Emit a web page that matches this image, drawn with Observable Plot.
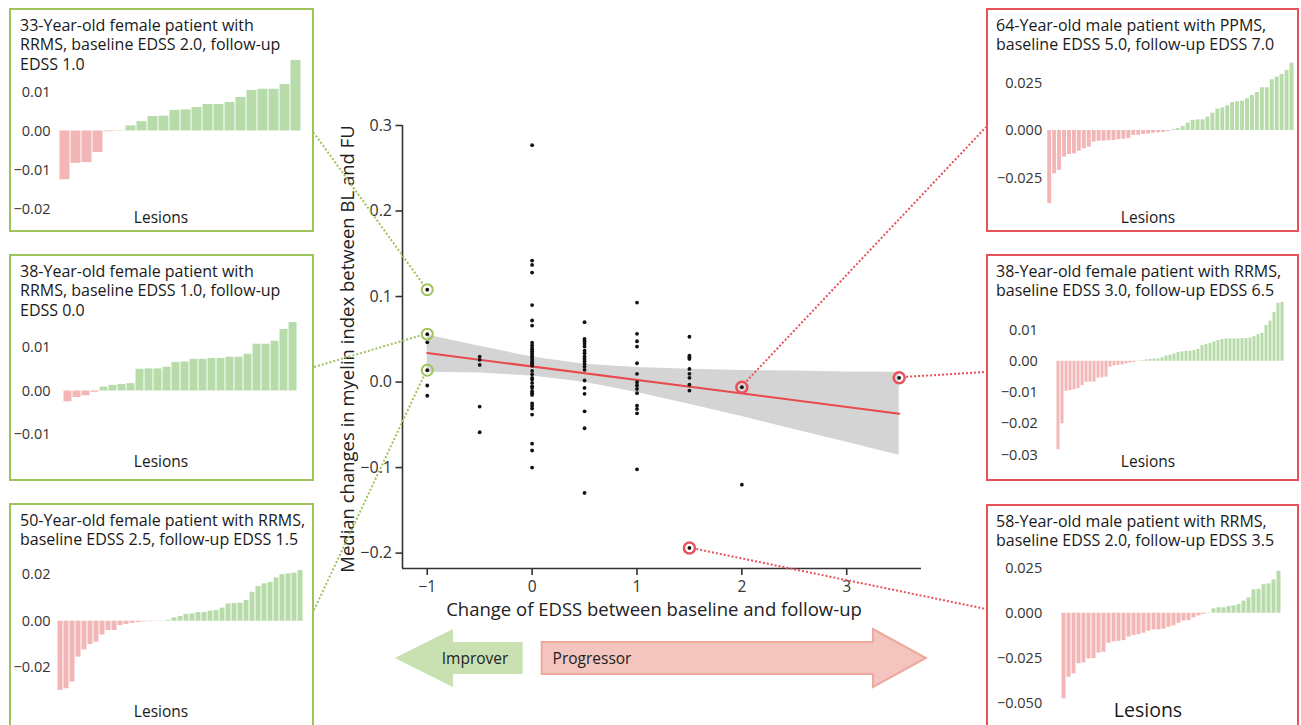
<!DOCTYPE html>
<html><head><meta charset="utf-8">
<script src="https://cdn.jsdelivr.net/npm/d3@7"></script>
<script src="https://cdn.jsdelivr.net/npm/@observablehq/plot@0.6"></script>
<style>
html,body{margin:0;padding:0;background:#fff;}
#root{position:relative;width:1301px;height:725px;overflow:hidden;font-family:"Open Sans",sans-serif;}
.layer{position:absolute;left:0;top:0;}
.box{position:absolute;box-sizing:border-box;border:2px solid;}
</style></head><body><div id="root"></div>
<script>
// ---------- DATA ----------
// Main scatter: change of EDSS (columns) and median myelin-index change of each patient
const columnX = [-1, -0.5, 0, 0.5, 1, 1.5, 2, 3.5];
const columnValues = [
  [0.108, 0.056, 0.0465, 0.0138, -0.004, -0.016],
  [0.0298, 0.026, 0.020, -0.0287, -0.0587],
  [0.277, 0.142, 0.137, 0.128, 0.090, 0.072, 0.066, 0.046, 0.043, 0.040, 0.038, 0.036, 0.034, 0.032, 0.030, 0.028, 0.026, 0.024, 0.022, 0.020, 0.019, 0.013, 0.009, 0.005, 0.003, -0.001, -0.005, -0.007, -0.011, -0.013, -0.015, -0.025, -0.028, -0.031, -0.038, -0.072, -0.080, -0.100],
  [0.070, 0.0505, 0.0477, 0.0447, 0.0415, 0.0368, 0.0337, 0.0298, 0.0271, 0.0243, 0.0213, 0.0181, 0.0143, 0.0018, -0.0068, -0.0138, -0.0342, -0.054, -0.1296],
  [0.093, 0.0564, 0.0477, 0.0415, 0.022, 0.0096, -0.0002, -0.004, -0.008, -0.013, -0.0275, -0.0314, -0.0365, -0.102],
  [0.053, 0.031, 0.029, 0.027, 0.0154, 0.0096, 0.005, -0.003, -0.010, -0.194],
  [-0.006, -0.120],
  [0.005]
];
// highlighted patients (shown in the panels)
const highlightX = [-1, -1, -1, 2, 3.5, 1.5];
const highlightY = [0.108, 0.056, 0.0138, -0.006, 0.005, -0.194];
const highlightGroup = ["improver", "improver", "improver", "progressor", "progressor", "progressor"];
// regression line and its confidence band
const fitX = [-1, 3.5];
const fitY = [0.034, -0.037];
const bandX = [-1, -0.5, 0, 0.5, 1, 1.5, 2, 2.5, 3, 3.5];
const bandLow = [0.0115, 0.0105, 0.0071, -0.0003, -0.0122, -0.026, -0.0404, -0.0556, -0.0703, -0.0855];
const bandHigh = [0.055, 0.0418, 0.0293, 0.0209, 0.017, 0.015, 0.0136, 0.013, 0.0119, 0.0115];
const xTicks = [-1, 0, 1, 2, 3];
const yTicks = [-0.2, -0.1, 0, 0.1, 0.2, 0.3];
const xLabel = "Change of EDSS between baseline and follow-up";
const yLabel = "Median changes in myelin index between BL and FU";

// per-lesion myelin changes for the six patients
const lesions1 = [-0.0125,-0.0083,-0.0081,-0.0055,-0.0002,0.0001,0.0013,0.0024,0.0037,0.0038,0.0053,0.0054,0.006,0.0068,0.0068,0.0073,0.0086,0.0104,0.0107,0.0107,0.0119,0.0181];
const lesions2 = [-0.0025,-0.0015,-0.0011,-0.0003,0.0009,0.0013,0.0015,0.0017,0.005,0.0051,0.0051,0.0055,0.0066,0.0067,0.0073,0.0073,0.0075,0.0075,0.0078,0.0078,0.0085,0.0108,0.0108,0.0115,0.0142,0.0158];
const lesions3 = [-0.0297,-0.029,-0.0261,-0.0154,-0.0123,-0.01,-0.009,-0.0059,-0.004,-0.004,-0.0019,-0.0014,-0.0009,-0.0006,-0.0003,-0.0002,-0.0001,0.0001,0.0004,0.0014,0.002,0.0029,0.0031,0.0037,0.0037,0.0043,0.0046,0.0056,0.0074,0.0076,0.0077,0.0089,0.0124,0.0149,0.016,0.0166,0.0186,0.02,0.0203,0.0206,0.0217];
const lesions4 = [-0.0385,-0.0228,-0.021,-0.014,-0.0126,-0.0123,-0.0109,-0.0096,-0.0088,-0.0061,-0.0056,-0.0056,-0.0054,-0.0053,-0.0049,-0.0046,-0.0042,-0.0026,-0.0025,-0.0021,-0.0018,-0.0014,-0.0012,-0.001,-0.0005,0.0004,0.001,0.0021,0.0039,0.0053,0.0056,0.0056,0.007,0.0091,0.0112,0.0119,0.013,0.0147,0.0151,0.0154,0.0167,0.0184,0.02,0.0225,0.0225,0.0267,0.0281,0.0295,0.0316,0.0354];
const lesions5 = [-0.0283,-0.02,-0.0096,-0.0094,-0.0091,-0.0088,-0.0078,-0.0067,-0.0067,-0.0067,-0.0054,-0.0053,-0.0051,-0.0019,-0.0015,-0.0013,-0.0012,-0.0009,-0.0006,-0.0004,0.0001,0.0002,0.0004,0.0006,0.0007,0.0007,0.0011,0.0017,0.0019,0.0023,0.0028,0.003,0.0032,0.0032,0.0034,0.0038,0.005,0.0054,0.0057,0.0062,0.0066,0.0069,0.0071,0.0071,0.0071,0.0071,0.0072,0.0072,0.0074,0.0079,0.0085,0.0089,0.0114,0.0128,0.0156,0.0185,0.0188];
const lesions6 = [-0.0476,-0.0356,-0.0337,-0.0281,-0.0276,-0.0254,-0.0252,-0.0222,-0.0217,-0.0167,-0.0159,-0.0156,-0.0152,-0.0133,-0.0124,-0.0119,-0.0111,-0.01,-0.0093,-0.0093,-0.0089,-0.0078,-0.007,-0.0056,-0.0044,-0.0041,-0.0026,-0.0015,-0.0007,0.0002,0.0024,0.003,0.003,0.0037,0.0041,0.0048,0.0067,0.0085,0.013,0.0133,0.0159,0.0163,0.0185,0.0233];
const panelTitles = [
  ["33-Year-old female patient with", "RRMS, baseline EDSS 2.0, follow-up", "EDSS 1.0"],
  ["38-Year-old female patient with", "RRMS, baseline EDSS 1.0, follow-up", "EDSS 0.0"],
  ["50-Year-old female patient with RRMS,", "baseline EDSS 2.5, follow-up EDSS 1.5"],
  ["64-Year-old male patient with PPMS,", "baseline EDSS 5.0, follow-up EDSS 7.0"],
  ["38-Year-old female patient with RRMS,", "baseline EDSS 3.0, follow-up EDSS 6.5"],
  ["58-Year-old male patient with RRMS,", "baseline EDSS 2.0, follow-up EDSS 3.5"]
];
const panelTicks = [[-0.02,-0.01,0,0.01],[-0.01,0,0.01],[-0.02,0,0.02],[-0.025,0,0.025],[-0.03,-0.02,-0.01,0,0.01],[-0.05,-0.025,0,0.025]];
const panelDomains = [[-0.02,0.01],[-0.01,0.01],[-0.02,0.02],[-0.025,0.025],[-0.03,0.01],[-0.05,0.025]];
const panelFormats = [".2f",".2f",".2f",".3f",".2f",".3f"];
const arrowLabels = ["Improver", "Progressor"];

// ---------- STYLE / LAYOUT ----------
const GREEN = "#9dc45a", RED = "#e8505a", FIT = "#e84a4c";
const NEG = "#f3b6b6", POS = "#b7dba9";
const FONT = '"Open Sans", sans-serif';
const panelLayout = [
  {left: 9,   top: 8,   w: 305,   h: 224, barL: 53.3,   barR: 306.7, yTop: 91.5,  yBot: 208.5, pad: 3.3, color: GREEN, anchor: [314, 133], lesY: 222.7, lesX: 161, lesSize: 15.5},
  {left: 9,   top: 254, w: 305,   h: 227, barL: 53.3,   barR: 306.7, yTop: 347.2, yBot: 433.8, pad: 3.3, color: GREEN, anchor: [314, 367], lesY: 467.3, lesX: 161, lesSize: 15.5},
  {left: 9,   top: 503, w: 305,   h: 240, barL: 53.3,   barR: 306.7, yTop: 574.1, yBot: 667.3, pad: 3.3, color: GREEN, anchor: [314, 610], lesY: 716.7, lesX: 161, lesSize: 15.5},
  {left: 986, top: 8,   w: 312.5, h: 224, barL: 1046.7, barR: 1294,  yTop: 82.5,  yBot: 177.5, pad: 5,   color: RED,   anchor: [986, 127], lesY: 222.7, lesX: 1148, lesSize: 15.5},
  {left: 986, top: 254, w: 312.5, h: 227, barL: 1045,   barR: 1295,  yTop: 329.4, yBot: 454.6, pad: 7.7, color: RED,   anchor: [986, 372], lesY: 467.3, lesX: 1148, lesSize: 15.5},
  {left: 986, top: 504, w: 312.5, h: 240, barL: 1046.7, barR: 1296,  yTop: 567.7, yBot: 702.7, pad: 5,   color: RED,   anchor: [986, 609], lesY: 717.3, lesX: 1148, lesSize: 19.5}
];
const panelValues = [lesions1, lesions2, lesions3, lesions4, lesions5, lesions6];

const root = document.getElementById("root");
function place(el, left, top) {
  const d = document.createElement("div");
  d.className = "layer"; d.style.left = left + "px"; d.style.top = top + "px";
  d.appendChild(el); root.appendChild(d); return d;
}

// ---------- MAIN SCATTER ----------
const xDomain = [-1.236, 3.713], yDomain = [-0.218, 0.3];
const points = columnX.flatMap((x, i) => columnValues[i].map(y => ({x, y})));
const highlights = highlightX.map((x, i) => ({x, y: highlightY[i], g: highlightGroup[i]}));
const band = bandX.map((x, i) => ({x, lo: bandLow[i], hi: bandHigh[i]}));
const fit = fitX.map((x, i) => ({x, y: fitY[i]}));

const main = Plot.plot({
  width: 1301, height: 725,
  marginLeft: 402, marginRight: 380, marginTop: 125, marginBottom: 157,
  x: {domain: xDomain}, y: {domain: yDomain},
  style: {fontFamily: FONT, fontSize: "16px", color: "#333", background: "transparent", overflow: "visible"},
  marks: [
    Plot.areaY(band, {x: "x", y1: "lo", y2: "hi", fill: "#d4d4d4"}),
    Plot.line(fit, {x: "x", y: "y", stroke: FIT, strokeWidth: 2}),
    Plot.dot(points, {x: "x", y: "y", r: 1.9, fill: "#111"}),
    Plot.dot(highlights.filter(d => d.g === "improver"), {x: "x", y: "y", r: 5.5, stroke: GREEN, strokeWidth: 2}),
    Plot.dot(highlights.filter(d => d.g === "progressor"), {x: "x", y: "y", r: 5.5, stroke: RED, strokeWidth: 2.5}),
    Plot.ruleX([xDomain[0]], {stroke: "#333", strokeWidth: 1.6}),
    Plot.ruleY([yDomain[0]], {stroke: "#333", strokeWidth: 1.6}),
    Plot.axisY({ticks: yTicks, tickFormat: d3.format(".1f"), tickSize: 6.5, tickPadding: 4, label: null, stroke: "#333", strokeWidth: 1.6, fill: "#333", fontSize: 16}),
    Plot.axisX({ticks: xTicks, tickFormat: d3.format("d"), tickSize: 7, tickPadding: 5, label: null, stroke: "#333", strokeWidth: 1.6, fill: "#333", fontSize: 15.5}),
    Plot.text([xLabel], {frameAnchor: "bottom", textAnchor: "middle", dy: 47, dx: -8, fontSize: 18.5, fill: "#222"}),
    Plot.text([yLabel], {frameAnchor: "left", textAnchor: "middle", rotate: -90, dx: -54, dy: 2, fontSize: 18.5, fill: "#222"})
  ]
});
place(main, 0, 0);
const sx = main.scale("x"), sy = main.scale("y");

// ---------- PANELS ----------
panelLayout.forEach((L, k) => {
  const box = document.createElement("div");
  box.className = "box";
  Object.assign(box.style, {left: L.left + "px", top: L.top + "px", width: L.w + "px", height: L.h + "px", borderColor: L.color});
  root.appendChild(box);
  const vals = panelValues[k];
  const data = vals.map((v, i) => ({i, v}));
  const p = Plot.plot({
    width: L.w, height: L.h,
    marginLeft: L.barL - L.left, marginRight: L.left + L.w - L.barR,
    marginTop: L.yTop - L.top, marginBottom: L.top + L.h - L.yBot,
    x: {type: "band", domain: d3.range(vals.length), padding: 0, axis: null},
    y: {domain: panelDomains[k]},
    style: {fontFamily: FONT, fontSize: "14.5px", color: "#333", background: "transparent", overflow: "visible"},
    marks: [
      Plot.barY(data.filter(d => d.v < 0), {x: "i", y: "v", fill: NEG, insetLeft: 0.5, insetRight: 0.5}),
      Plot.barY(data.filter(d => d.v >= 0), {x: "i", y: "v", fill: POS, insetLeft: 0.5, insetRight: 0.5}),
      Plot.axisY({ticks: panelTicks[k], tickFormat: d3.format(panelFormats[k]), tickSize: 0, tickPadding: L.pad, label: null, fill: "#333", fontSize: 14.5})
    ]
  });
  place(p, L.left, L.top);
});

// ---------- OVERLAY: titles, connectors, arrows ----------
const ov = d3.create("svg").attr("width", 1301).attr("height", 725)
  .style("font-family", FONT).style("overflow", "visible");
panelLayout.forEach((L, k) => {
  const t = ov.append("text").attr("font-size", 16).attr("fill", "#1a1a1a");
  panelTitles[k].forEach((line, j) => {
    t.append("tspan").attr("x", L.left + (L.left < 100 ? 11 : 10)).attr("y", L.top + 22.5 + j * 19.5).text(line);
  });
  ov.append("text").attr("x", L.lesX).attr("y", L.lesY).attr("text-anchor", "middle")
    .attr("font-size", L.lesSize).attr("fill", "#1a1a1a").text("Lesions");
  // connector
  const h = highlights[k];
  const cx = sx.apply(h.x), cy = sy.apply(h.y);
  const [ax, ay] = L.anchor;
  const dist = Math.hypot(ax - cx, ay - cy), ux = (ax - cx) / dist, uy = (ay - cy) / dist;
  const r0 = 7.5;
  ov.append("line").attr("x1", cx + ux * r0).attr("y1", cy + uy * r0).attr("x2", ax).attr("y2", ay)
    .attr("stroke", L.color === GREEN ? GREEN : RED).attr("stroke-width", 2).attr("stroke-dasharray", "2,2");
});
// arrows
const yMid = 658, bT = 642, bB = 674, hT = 629, hB = 687;
{
  const tip = sx.apply(-1.305), base = sx.apply(-0.75), end = sx.apply(-0.085);
  ov.append("polygon").attr("points", [[tip, yMid],[base, hT],[base, bT],[end, bT],[end, bB],[base, bB],[base, hB]].join(" "))
    .attr("fill", "#c9e1b1");
  ov.append("text").attr("x", sx.apply(-0.857)).attr("y", 664).attr("font-size", 15.5).attr("fill", "#222").text(arrowLabels[0]);
}
{
  const start = sx.apply(0.096), base = sx.apply(3.255), tip = sx.apply(3.76);
  ov.append("polygon").attr("points", [[start, bT],[base, bT],[base, hT],[tip, yMid],[base, hB],[base, bB],[start, bB]].join(" "))
    .attr("fill", "#f4c4bf").attr("stroke", "#eea99f").attr("stroke-width", 2);
  ov.append("text").attr("x", sx.apply(0.2)).attr("y", 664).attr("font-size", 15.5).attr("fill", "#222").text(arrowLabels[1]);
}
place(ov.node(), 0, 0);
</script></body></html>
